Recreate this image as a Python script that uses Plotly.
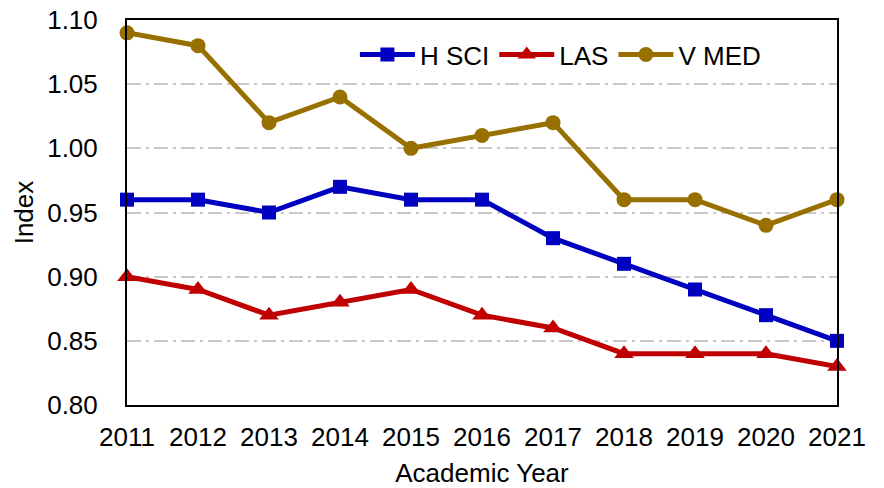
import plotly.graph_objects as go

years = ["2011","2012","2013","2014","2015","2016","2017","2018","2019","2020","2021"]
h_sci = [0.96,0.96,0.95,0.97,0.96,0.96,0.93,0.91,0.89,0.87,0.85]
las = [0.90,0.89,0.87,0.88,0.89,0.87,0.86,0.84,0.84,0.84,0.83]
v_med = [1.09,1.08,1.02,1.04,1.00,1.01,1.02,0.96,0.96,0.94,0.96]
y_ticks = [0.80, 0.85, 0.90, 0.95, 1.00, 1.05, 1.10]
y_tick_labels = ["0.80", "0.85", "0.90", "0.95", "1.00", "1.05", "1.10"]

fig = go.Figure()
fig.add_trace(go.Scatter(x=years, y=h_sci, name="H SCI", mode="lines+markers",
                         line=dict(color="#0000C0", width=5),
                         marker=dict(symbol="square", size=14, color="#0000C0"),
                         cliponaxis=False))
fig.add_trace(go.Scatter(x=years, y=las, name="LAS", mode="lines+markers",
                         line=dict(color="#C00000", width=5),
                         marker=dict(symbol="triangle-up", size=17, color="#C00000"),
                         cliponaxis=False))
fig.add_trace(go.Scatter(x=years, y=v_med, name="V MED", mode="lines+markers",
                         line=dict(color="#987000", width=5),
                         marker=dict(symbol="circle", size=15, color="#987000"),
                         cliponaxis=False))

font = "Liberation Sans, Arial, sans-serif"
fig.update_layout(
    width=884, height=488,
    margin=dict(l=127, r=47, t=20, b=83),
    paper_bgcolor="white", plot_bgcolor="white",
    font=dict(family=font, size=26, color="black"),
    legend=dict(orientation="h", x=0.321, y=0.91, xanchor="left", yanchor="middle",
                bgcolor="rgba(0,0,0,0)", font=dict(size=26), itemwidth=55,
                tracegroupgap=0),
    xaxis=dict(type="category", range=[0, 10], showline=True, linecolor="black",
               linewidth=2, mirror=True, showgrid=False, ticks="",
               ticklabelstandoff=8, ticklabeloverflow="allow", automargin=False,
               title=dict(text="Academic Year", font=dict(size=26))),
    yaxis=dict(range=[0.8, 1.1], tickmode="array", tickvals=y_ticks,
               ticktext=y_tick_labels, showline=True,
               linecolor="black", linewidth=2, mirror=True, showgrid=True,
               gridcolor="#C8C8C8", gridwidth=2, griddash="14px,5px,3px,5px", ticks="",
               ticklabelstandoff=22, zeroline=False, ticklabeloverflow="allow",
               automargin="left",
               title=dict(text="Index", standoff=6, font=dict(size=26))),
)
fig.write_html("out.html", config={"displayModeBar": False},
               post_script="document.body.style.margin='0';document.body.style.overflow='hidden';")
